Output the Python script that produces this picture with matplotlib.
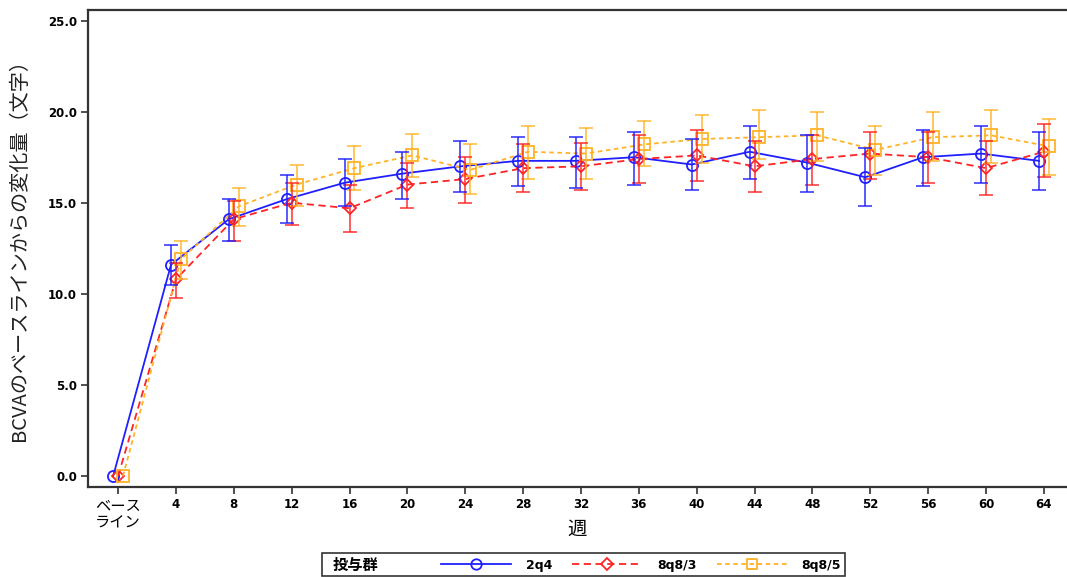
import numpy as np
import matplotlib.pyplot as plt
from matplotlib.lines import Line2D
from matplotlib.patches import Rectangle

# data
week_labels = ["ベース\nライン", "4", "8", "12", "16", "20", "24", "28", "32",
               "36", "40", "44", "48", "52", "56", "60", "64"]

mean_2q4 = [0, 11.6, 14.1, 15.2, 16.1, 16.6, 17.0, 17.3, 17.3, 17.5, 17.1, 17.8, 17.2, 16.4, 17.5, 17.7, 17.3]
low_2q4 = [0, 10.5, 12.9, 13.9, 14.8, 15.2, 15.6, 15.9, 15.8, 16.0, 15.7, 16.3, 15.6, 14.8, 15.9, 16.1, 15.7]
high_2q4 = [0, 12.7, 15.2, 16.5, 17.4, 17.8, 18.4, 18.6, 18.6, 18.9, 18.5, 19.2, 18.7, 18.0, 19.0, 19.2, 18.9]

mean_8q83 = [0, 10.8, 14.1, 15.0, 14.7, 16.0, 16.3, 16.9, 17.0, 17.4, 17.6, 17.0, 17.4, 17.7, 17.5, 16.9, 17.8]
low_8q83 = [0, 9.8, 12.9, 13.8, 13.4, 14.7, 15.0, 15.6, 15.7, 16.1, 16.2, 15.6, 16.0, 16.3, 16.1, 15.4, 16.4]
high_8q83 = [0, 11.7, 15.1, 16.1, 16.0, 17.2, 17.5, 18.2, 18.3, 18.7, 19.0, 18.4, 18.7, 18.9, 18.9, 18.4, 19.3]

mean_8q85 = [0, 11.9, 14.8, 16.0, 16.9, 17.6, 16.8, 17.8, 17.7, 18.2, 18.5, 18.6, 18.7, 17.9, 18.6, 18.7, 18.1]
low_8q85 = [0, 10.8, 13.7, 14.8, 15.7, 16.4, 15.5, 16.3, 16.3, 17.0, 17.2, 17.4, 17.3, 16.5, 17.3, 17.2, 16.5]
high_8q85 = [0, 12.9, 15.8, 17.1, 18.1, 18.8, 18.2, 19.2, 19.1, 19.5, 19.8, 20.1, 20.0, 19.2, 20.0, 20.1, 19.6]

groups = ["2q4", "8q8/3", "8q8/5"]

plt.rcParams['font.family'] = ['DejaVu Sans', 'Noto Sans CJK JP']
cjk = ['Noto Sans CJK JP', 'DejaVu Sans']

fig = plt.figure(figsize=(10.67, 5.77), dpi=100)
ax = fig.add_axes([88 / 1067, 1 - 487 / 577, 1 - 88 / 1067, (487 - 10) / 577])

x = np.arange(len(week_labels))
series = [
    (mean_2q4, low_2q4, high_2q4, '#1f1fff', '-', 'o', -0.085),
    (mean_8q83, low_8q83, high_8q83, '#ff2424', (0, (4, 2.5)), 'D', 0.0),
    (mean_8q85, low_8q85, high_8q85, '#ffb326', (0, (2.5, 2)), 's', 0.085),
]

handles = []
for i, (m, lo, hi, col, ls, mk, off) in reversed(list(enumerate(series))):
    m = np.array(m)
    lo = np.array(lo)
    hi = np.array(hi)
    xs = x + off
    ms = 6.5 if mk == 'D' else 8
    ax.plot(xs, m, color=col, ls=ls, lw=1.3, marker=mk, ms=ms, mfc='none',
            mec=col, mew=1.3, zorder=3 + i * 0.1)
    ax.errorbar(xs[1:], m[1:], yerr=[m[1:] - lo[1:], hi[1:] - m[1:]], fmt='none',
                ecolor=col, elinewidth=1.3, capsize=4.7, capthick=1.3, alpha=0.8,
                zorder=4)

for (m, lo, hi, col, ls, mk, off), name in zip(series, groups):
    ms = 6 if mk == 'D' else 7.5
    handles.append(Line2D([], [], color=col, ls=ls, lw=1.3, marker=mk, ms=ms,
                          mfc='none', mec=col, mew=1.3, label=name))

ax.set_xlim(-0.52, 16.4)
ax.set_ylim(-0.6, 25.58)
ax.set_xticks(x)
ax.set_xticklabels(week_labels)
ax.set_yticks([0, 5, 10, 15, 20, 25])
ax.set_yticklabels(["0.0", "5.0", "10.0", "15.0", "20.0", "25.0"])
for lab in ax.get_xticklabels() + ax.get_yticklabels():
    lab.set_fontweight('bold')
    lab.set_fontsize(8.5)
first = ax.get_xticklabels()[0]
first.set_fontweight('normal')
first.set_family(cjk)
first.set_fontsize(11)
first.set_linespacing(0.95)
first.set_multialignment('center')

ax.tick_params(axis='both', length=5, width=1.2, color='#333333', pad=3)
for s in ['left', 'bottom', 'top']:
    ax.spines[s].set_color('#333333')
    ax.spines[s].set_linewidth(1.6)
ax.spines['right'].set_visible(False)

ax.set_xlabel("週", family=cjk, fontsize=14)
ax.xaxis.set_label_coords(0.5, -0.066)
ax.set_ylabel("BCVAのベースラインからの変化量（文字）", family=cjk, fontsize=14.5,
              color='#222222')
ax.yaxis.set_label_coords(-0.059, 0.507)

# legend strip at the bottom
fig.patches.append(Rectangle((322 / 1067, 1 - 576 / 577), (845 - 322) / 1067, 23 / 577,
                             transform=fig.transFigure, fill=False, ec='#333333', lw=1.2))
fig.text(333 / 1067, 1 - 565 / 577, "投与群", family=cjk, fontweight='bold',
         fontsize=11, va='center', ha='left')
leg = fig.legend(handles=handles, loc='center', bbox_to_anchor=(641 / 1067, 1 - 565 / 577),
                 ncol=3, frameon=False, handlelength=5.6, handletextpad=1.2,
                 columnspacing=1.6, borderpad=0, prop={'weight': 'bold', 'size': 9})

fig.savefig("out.png", dpi=100)
